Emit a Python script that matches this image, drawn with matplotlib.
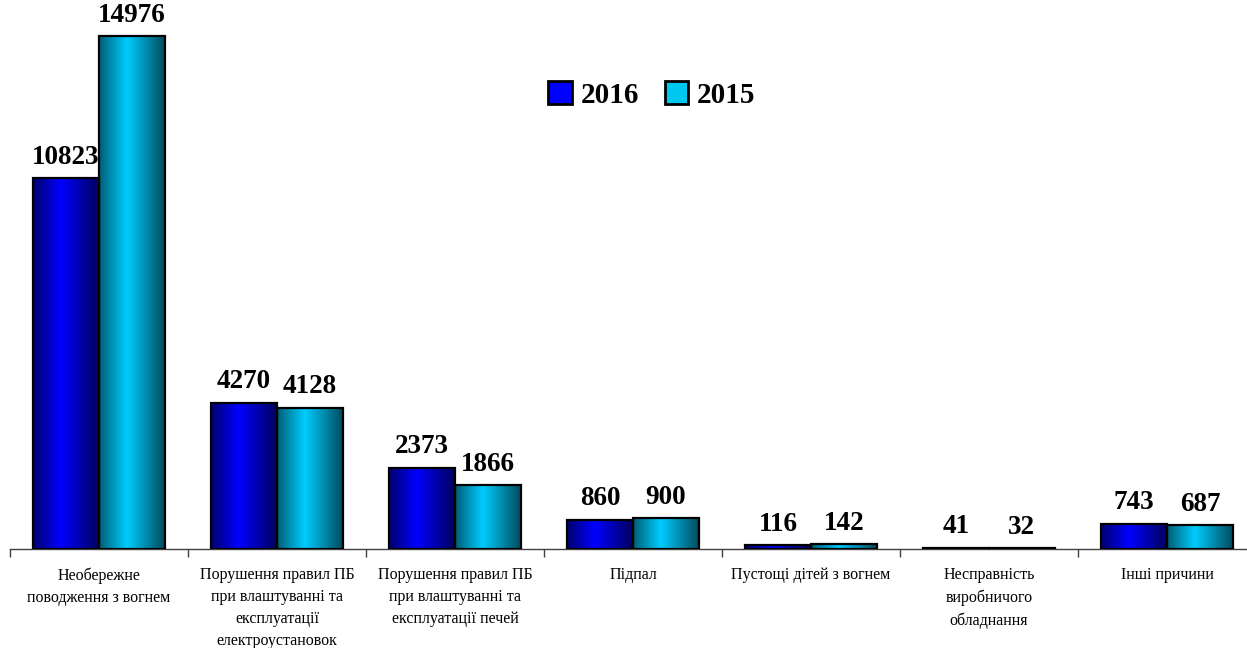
import numpy as np
import matplotlib
matplotlib.use("Agg")
import matplotlib.pyplot as plt
from matplotlib.colors import LinearSegmentedColormap
from matplotlib.patches import Patch

categories = [
    "Необережне\nповодження з вогнем",
    "Порушення правил ПБ\nпри влаштуванні та\nексплуатації\nелектроустановок",
    "Порушення правил ПБ\nпри влаштуванні та\nексплуатації печей",
    "Підпал",
    "Пустощі дітей з вогнем",
    "Несправність\nвиробничого\nобладнання",
    "Інші причини",
]
values_2016 = [10823, 4270, 2373, 860, 116, 41, 743]
values_2015 = [14976, 4128, 1866, 900, 142, 32, 687]
series_names = ["2016", "2015"]

plt.rcParams['font.family'] = ['Liberation Serif', 'DejaVu Serif']

W, H = 1247, 648
fig = plt.figure(figsize=(W / 100, H / 100), dpi=100)
left, right = 10 / W, 1256 / W
bottom = 1 - 549 / H
top = 1 - 1 / H
ax = fig.add_axes([left, bottom, right - left, top - bottom])

cmap16 = LinearSegmentedColormap.from_list(
    "c16", [(0, "#000070"), (0.42, "#0000ff"), (1, "#000060")])
cmap15 = LinearSegmentedColormap.from_list(
    "c15", [(0, "#005f78"), (0.42, "#00ccff"), (1, "#004d60")])

n = len(categories)
x = np.arange(n)
bw = 0.37
ymax = 16000
ax.set_xlim(-0.5, n - 0.5)
ax.set_ylim(0, ymax)

grad = np.linspace(0, 1, 64).reshape(1, -1)

def draw_bars(xs, vals, cmap):
    bars = ax.bar(xs, vals, width=bw, facecolor="none", edgecolor="black",
                  linewidth=1.6, zorder=3)
    for b in bars:
        bx, by = b.get_x(), b.get_y()
        w, h = b.get_width(), b.get_height()
        im = ax.imshow(grad, cmap=cmap, aspect="auto",
                       extent=[bx, bx + w, by, by + h], zorder=2,
                       interpolation="bilinear")
        im.set_clip_path(b)
    return bars

b16 = draw_bars(x - bw / 2, values_2016, cmap16)
b15 = draw_bars(x + bw / 2, values_2015, cmap15)
ax.set_xlim(-0.5, n - 0.5)
ax.set_ylim(0, ymax)
ax.set_aspect("auto")

for bars, vals in ((b16, values_2016), (b15, values_2015)):
    for b, v in zip(bars, vals):
        ax.annotate(f"{v}", (b.get_x() + b.get_width() / 2, v),
                    xytext=(0, 6), textcoords="offset points",
                    ha="center", va="bottom", fontsize=19.5, fontweight="bold",
                    zorder=5)

for s in ["top", "right", "left"]:
    ax.spines[s].set_visible(False)
ax.spines["bottom"].set_linewidth(1.0)
ax.spines["bottom"].set_color("#404040")
ax.set_yticks([])
ax.set_xticks(np.arange(-0.5, n, 1.0), minor=False)
ax.set_xticklabels([])
ax.tick_params(axis="x", length=6, width=1, color="#404040")
ax.set_xticks(x, minor=True)
ax.set_xticklabels(categories, minor=True, fontsize=11.5, linespacing=1.5)
ax.tick_params(axis="x", which="minor", length=0, pad=13)

handles = [Patch(facecolor="#0000ff", edgecolor="black", linewidth=2),
           Patch(facecolor="#00c8f0", edgecolor="black", linewidth=2)]
fig.legend(handles, series_names, loc="center", bbox_to_anchor=(652 / W, 1 - 95 / H),
           ncol=2, frameon=False, prop={"size": 21, "weight": "bold"},
           handlelength=0.8, handleheight=0.8, handletextpad=0.3, columnspacing=0.9)

fig.savefig("out.png", dpi=100)
